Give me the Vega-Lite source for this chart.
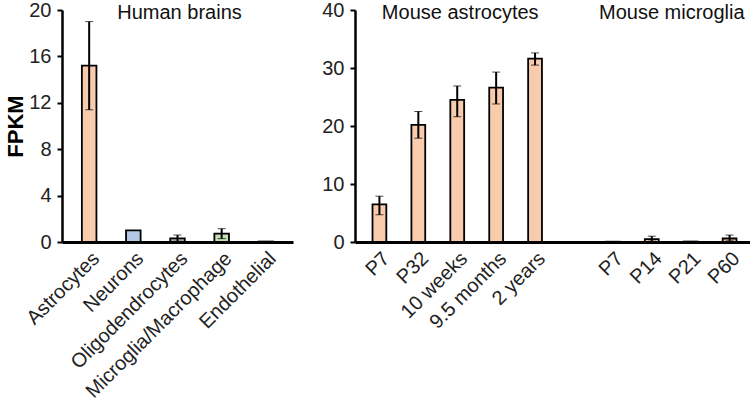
{
  "$schema": "https://vega.github.io/schema/vega-lite/v6.json",
  "background": "white",
  "padding": {"left": 4, "top": 0, "right": 1, "bottom": 0},
  "config": {
    "font": "Liberation Sans",
    "view": {"stroke": null},
    "concat": {"spacing": 28},
    "axisY": {"domainColor": "black", "domainWidth": 2.5, "tickColor": "black", "tickWidth": 2, "tickSize": 5, "labelFontSize": 20, "labelColor": "#222", "labelPadding": 6, "grid": false, "titleFontSize": 22, "titleFontWeight": "bold", "titleColor": "black", "titlePadding": 1},
    "axisX": {"domainColor": "black", "domainWidth": 3, "ticks": false, "labelAngle": -45, "labelFontSize": 20, "labelColor": "#222", "labelPadding": 6, "labelLimit": 400, "title": null}
  },
  "datasets": {
    "human": [
      {"cat": "Astrocytes", "value": 15.2, "lo": 11.4, "hi": 19.0},
      {"cat": "Neurons", "value": 1.0, "lo": null, "hi": null},
      {"cat": "Oligodendrocytes", "value": 0.32, "lo": 0.05, "hi": 0.6},
      {"cat": "Microglia/Macrophage", "value": 0.72, "lo": 0.29, "hi": 1.15},
      {"cat": "Endothelial", "value": 0.04, "lo": null, "hi": null}
    ],
    "mouse": [
      {"cat": "P7", "group": "Mouse astrocytes", "value": 6.5, "lo": 4.7, "hi": 7.9},
      {"cat": "P32", "group": "Mouse astrocytes", "value": 20.2, "lo": 17.9, "hi": 22.5},
      {"cat": "10 weeks", "group": "Mouse astrocytes", "value": 24.5, "lo": 21.6, "hi": 26.9},
      {"cat": "9.5 months", "group": "Mouse astrocytes", "value": 26.6, "lo": 23.8, "hi": 29.3},
      {"cat": "2 years", "group": "Mouse astrocytes", "value": 31.6, "lo": 30.5, "hi": 32.6},
      {"cat": "P7 ", "group": "Mouse microglia", "value": 0.05, "lo": null, "hi": null},
      {"cat": "P14", "group": "Mouse microglia", "value": 0.5, "lo": 0.15, "hi": 1.0},
      {"cat": "P21", "group": "Mouse microglia", "value": 0.08, "lo": null, "hi": null},
      {"cat": "P60", "group": "Mouse microglia", "value": 0.6, "lo": 0.2, "hi": 1.2}
    ],
    "humanTitle": [{"label": "Human brains", "cat": "Oligodendrocytes", "y": 20}],
    "astroTitle": [{"label": "Mouse astrocytes", "cat": "10 weeks", "y": 40}],
    "microTitle": [{"label": "Mouse microglia", "cat": "P14", "y": 40}]
  },
  "hconcat": [
    {
      "width": 231,
      "height": 232,
      "encoding": {
        "x": {"field": "cat", "type": "nominal", "sort": null,
          "scale": {"domain": ["Astrocytes", "Neurons", "Oligodendrocytes", "Microglia/Macrophage", "Endothelial"], "paddingInner": 0.67, "paddingOuter": 0.45}}
      },
      "layer": [
        {
          "data": {"name": "human"},
          "mark": {"type": "bar", "stroke": "black", "strokeWidth": 1.8},
          "encoding": {
            "y": {"field": "value", "type": "quantitative", "title": "FPKM",
              "scale": {"domain": [0, 20], "nice": false},
              "axis": {"values": [0, 4, 8, 12, 16, 20], "title": "FPKM"}},
            "color": {"field": "cat", "type": "nominal", "legend": null,
              "scale": {"domain": ["Astrocytes", "Neurons", "Oligodendrocytes", "Microglia/Macrophage", "Endothelial"],
                "range": ["#F8CBAD", "#B4C7E7", "#A6A6A6", "#C5E0B4", "#F8CBAD"]}}
          }
        },
        {
          "data": {"name": "human"},
          "transform": [{"filter": "datum.lo != null"}],
          "mark": {"type": "errorbar", "ticks": {"size": 8, "color": "black", "strokeWidth": 2}, "rule": {"color": "black", "strokeWidth": 2}},
          "encoding": {
            "y": {"field": "lo", "type": "quantitative", "title": "FPKM"},
            "y2": {"field": "hi"}
          }
        },
        {
          "data": {"name": "humanTitle"},
          "mark": {"type": "text", "fontSize": 20, "color": "#111", "baseline": "middle", "dx": 2, "dy": 3},
          "encoding": {
            "y": {"field": "y", "type": "quantitative", "title": "FPKM"},
            "text": {"field": "label"}
          }
        }
      ]
    },
    {
      "width": 399,
      "height": 232,
      "encoding": {
        "x": {"field": "cat", "type": "nominal", "sort": null,
          "scale": {"domain": ["P7", "P32", "10 weeks", "9.5 months", "2 years", " ", "P7 ", "P14", "P21", "P60"], "paddingInner": 0.645, "paddingOuter": 0.45}}
      },
      "layer": [
        {
          "data": {"name": "mouse"},
          "mark": {"type": "bar", "stroke": "black", "strokeWidth": 1.8, "color": "#F8CBAD"},
          "encoding": {
            "y": {"field": "value", "type": "quantitative", "title": null,
              "scale": {"domain": [0, 40], "nice": false},
              "axis": {"values": [0, 10, 20, 30, 40], "title": null}}
          }
        },
        {
          "data": {"name": "mouse"},
          "transform": [{"filter": "datum.lo != null"}],
          "mark": {"type": "errorbar", "ticks": {"size": 8, "color": "black", "strokeWidth": 2}, "rule": {"color": "black", "strokeWidth": 2}},
          "encoding": {
            "y": {"field": "lo", "type": "quantitative", "title": null},
            "y2": {"field": "hi"}
          }
        },
        {
          "data": {"name": "astroTitle"},
          "mark": {"type": "text", "fontSize": 20, "color": "#111", "baseline": "middle", "dx": 3, "dy": 3},
          "encoding": {
            "y": {"field": "y", "type": "quantitative", "title": null},
            "text": {"field": "label"}
          }
        },
        {
          "data": {"name": "microTitle"},
          "mark": {"type": "text", "fontSize": 20, "color": "#111", "baseline": "middle", "dx": 20, "dy": 3},
          "encoding": {
            "y": {"field": "y", "type": "quantitative", "title": null},
            "text": {"field": "label"}
          }
        }
      ]
    }
  ]
}
